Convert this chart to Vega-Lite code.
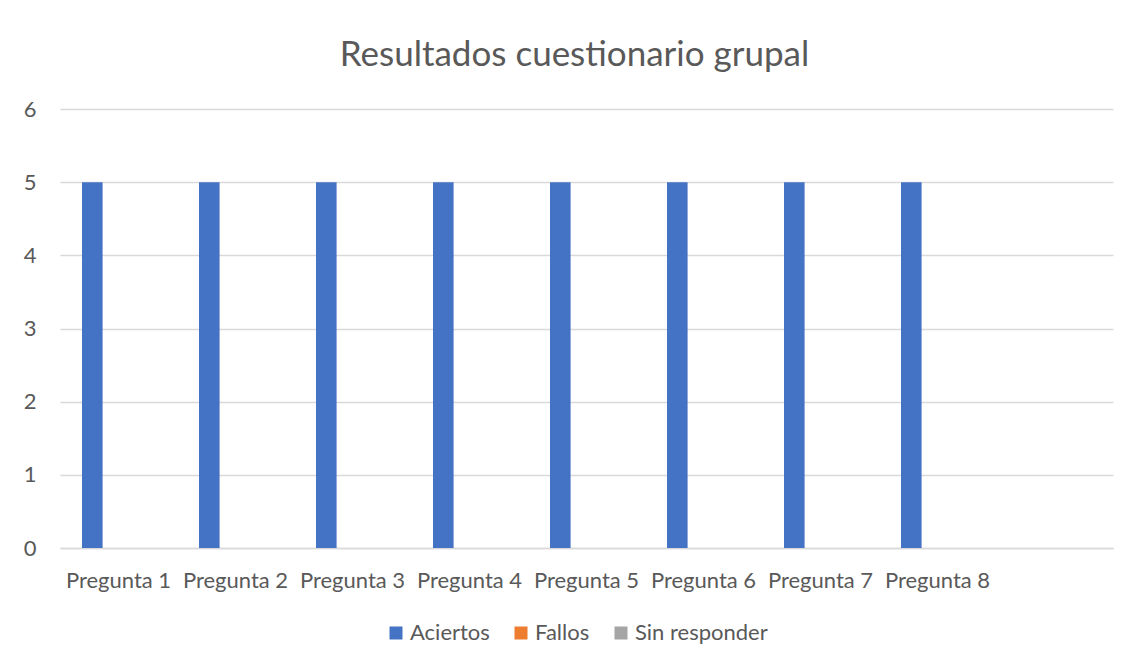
{
  "$schema": "https://vega.github.io/schema/vega-lite/v6.json",
  "width": 1053,
  "height": 439,
  "autosize": {"type": "none"},
  "padding": {"left": 60, "top": 109, "right": 18, "bottom": 118},
  "background": "white",
  "config": {
    "font": "Lato",
    "view": {"stroke": null},
    "axis": {"labelFont": "Lato", "labelColor": "#595959", "labelFontSize": 22, "titleFont": "Lato"},
    "legend": {"labelFont": "Lato", "labelColor": "#595959", "labelFontSize": 22}
  },
  "title": {
    "text": "Resultados cuestionario grupal",
    "font": "Lato",
    "fontSize": 35,
    "fontWeight": "normal",
    "color": "#595959",
    "anchor": "middle",
    "baseline": "alphabetic",
    "offset": -3,
    "dx": -12
  },
  "data": {
    "values": [
      {"pregunta": "Pregunta 1", "serie": "Aciertos", "valor": 5},
      {"pregunta": "Pregunta 1", "serie": "Fallos", "valor": 0},
      {"pregunta": "Pregunta 1", "serie": "Sin responder", "valor": 0},
      {"pregunta": "Pregunta 2", "serie": "Aciertos", "valor": 5},
      {"pregunta": "Pregunta 2", "serie": "Fallos", "valor": 0},
      {"pregunta": "Pregunta 2", "serie": "Sin responder", "valor": 0},
      {"pregunta": "Pregunta 3", "serie": "Aciertos", "valor": 5},
      {"pregunta": "Pregunta 3", "serie": "Fallos", "valor": 0},
      {"pregunta": "Pregunta 3", "serie": "Sin responder", "valor": 0},
      {"pregunta": "Pregunta 4", "serie": "Aciertos", "valor": 5},
      {"pregunta": "Pregunta 4", "serie": "Fallos", "valor": 0},
      {"pregunta": "Pregunta 4", "serie": "Sin responder", "valor": 0},
      {"pregunta": "Pregunta 5", "serie": "Aciertos", "valor": 5},
      {"pregunta": "Pregunta 5", "serie": "Fallos", "valor": 0},
      {"pregunta": "Pregunta 5", "serie": "Sin responder", "valor": 0},
      {"pregunta": "Pregunta 6", "serie": "Aciertos", "valor": 5},
      {"pregunta": "Pregunta 6", "serie": "Fallos", "valor": 0},
      {"pregunta": "Pregunta 6", "serie": "Sin responder", "valor": 0},
      {"pregunta": "Pregunta 7", "serie": "Aciertos", "valor": 5},
      {"pregunta": "Pregunta 7", "serie": "Fallos", "valor": 0},
      {"pregunta": "Pregunta 7", "serie": "Sin responder", "valor": 0},
      {"pregunta": "Pregunta 8", "serie": "Aciertos", "valor": 5},
      {"pregunta": "Pregunta 8", "serie": "Fallos", "valor": 0},
      {"pregunta": "Pregunta 8", "serie": "Sin responder", "valor": 0}
    ]
  },
  "mark": {"type": "bar"},
  "encoding": {
    "x": {
      "field": "pregunta",
      "type": "nominal",
      "scale": {
        "domain": ["Pregunta 1", "Pregunta 2", "Pregunta 3", "Pregunta 4", "Pregunta 5", "Pregunta 6", "Pregunta 7", "Pregunta 8", " "],
        "paddingInner": 0.376,
        "paddingOuter": 0.188
      },
      "axis": {
        "title": null,
        "labelAngle": 0,
        "ticks": false,
        "domainColor": "#d9d9d9",
        "domainWidth": 1.5,
        "labelPadding": 22,
        "grid": false
      }
    },
    "xOffset": {
      "field": "serie",
      "type": "nominal",
      "scale": {"domain": ["Aciertos", "Fallos", "Sin responder"], "paddingInner": 0.214, "paddingOuter": 0}
    },
    "y": {
      "field": "valor",
      "type": "quantitative",
      "scale": {"domain": [0, 6]},
      "axis": {
        "title": null,
        "values": [0, 1, 2, 3, 4, 5, 6],
        "domain": false,
        "ticks": false,
        "gridColor": "#d9d9d9",
        "gridWidth": 1.5,
        "labelPadding": 24
      }
    },
    "color": {
      "field": "serie",
      "type": "nominal",
      "scale": {"domain": ["Aciertos", "Fallos", "Sin responder"], "range": ["#4472C4", "#ED7D31", "#A5A5A5"]},
      "legend": {
        "title": null,
        "orient": "none",
        "legendX": 325,
        "legendY": 513,
        "direction": "horizontal",
        "symbolType": "square",
        "symbolSize": 169,
        "symbolStrokeWidth": 0,
        "columnPadding": 20,
        "labelOffset": 3
      }
    }
  }
}
